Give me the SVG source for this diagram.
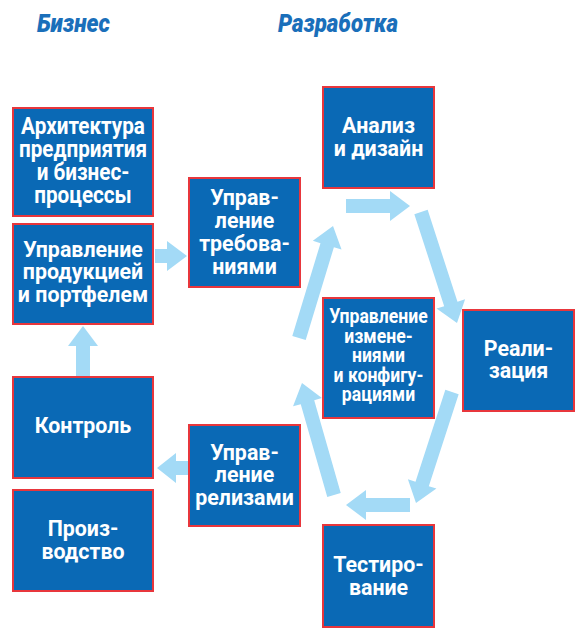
<svg xmlns="http://www.w3.org/2000/svg" width="587" height="640" viewBox="0 0 587 640">
<style>
.box{fill:#0a69b5;stroke:#e8363c;stroke-width:2}
.t{fill:#fff;font-family:Roboto,"Liberation Sans",sans-serif;font-weight:bold;font-size:23px;text-anchor:middle}
.s{font-size:20.5px}
.h{fill:#1a6fba;font-family:Roboto,"Liberation Sans",Arial,sans-serif;font-weight:900;font-style:italic;font-size:25px}
.ar{fill:#a3daf6}
</style>
<rect width="587" height="640" fill="#fff"/>
<text class="h" x="37" y="32" textLength="73" lengthAdjust="spacingAndGlyphs">Бизнес</text>
<text class="h" x="278" y="32" textLength="120" lengthAdjust="spacingAndGlyphs">Разработка</text>
<g id="connectors">
<polygon class="ar" transform="translate(155,256)" points="0,-7 12,-7 12,-15 32,0 12,15 12,7 0,7"/>
<polygon class="ar" transform="translate(83,376) rotate(-90)" points="0,-7 30,-7 30,-15 50,0 30,15 30,7 0,7"/>
<polygon class="ar" transform="translate(188,468) rotate(180)" points="0,-7 12,-7 12,-15 31,0 12,15 12,7 0,7"/>
<polygon class="ar" transform="translate(346,206) rotate(0)" points="0,-7 44,-7 44,-15 64,0 44,15 44,7 0,7"/>
<polygon class="ar" transform="translate(421,212) rotate(72.03)" points="0,-7 96.7,-7 96.7,-15 116.7,0 96.7,15 96.7,7 0,7"/>
<polygon class="ar" transform="translate(452,392) rotate(107.97)" points="0,-7 96.7,-7 96.7,-15 116.7,0 96.7,15 96.7,7 0,7"/>
<polygon class="ar" transform="translate(410,505) rotate(180)" points="0,-7 44,-7 44,-15 64,0 44,15 44,7 0,7"/>
<polygon class="ar" transform="translate(334,495) rotate(-105.95)" points="0,-7 96.5,-7 96.5,-15 116.5,0 96.5,15 96.5,7 0,7"/>
<polygon class="ar" transform="translate(299,338) rotate(-73.1)" points="0,-7 97,-7 97,-15 117,0 97,15 97,7 0,7"/>
</g>
<g id="arch">
<rect class="box" x="13" y="108" width="140" height="108"/>
<g transform="translate(83,0) scale(0.9,1)">
<text class="t" x="0" y="134">Архитектура</text>
<text class="t" x="0" y="157">предприятия</text>
<text class="t" x="0" y="180">и бизнес-</text>
<text class="t" x="0" y="203">процессы</text>
</g>
</g>
<g id="product">
<rect class="box" x="13" y="224" width="140" height="100"/>
<g transform="translate(83,0) scale(0.93,1)">
<text class="t" x="0" y="257">Управление</text>
<text class="t" x="0" y="279.5">продукцией</text>
<text class="t" x="0" y="302">и портфелем</text>
</g>
</g>
<g id="requirements">
<rect class="box" x="189" y="178" width="111" height="109"/>
<g transform="translate(244.5,0) scale(0.93,1)">
<text class="t" x="0" y="205">Управ-</text>
<text class="t" x="0" y="228">ление</text>
<text class="t" x="0" y="251">требова-</text>
<text class="t" x="0" y="274">ниями</text>
</g>
</g>
<g id="analysis">
<rect class="box" x="323" y="87" width="111" height="101"/>
<g transform="translate(378.5,0) scale(0.93,1)">
<text class="t" x="0" y="133">Анализ</text>
<text class="t" x="0" y="156">и дизайн</text>
</g>
</g>
<g id="changes">
<rect class="box" x="323" y="298" width="111" height="120"/>
<g transform="translate(378.5,0) scale(0.86,1)">
<text class="t s" x="0" y="323">Управление</text>
<text class="t s" x="0" y="343">измене-</text>
<text class="t s" x="0" y="362.5">ниями</text>
<text class="t s" x="0" y="382">и конфигу-</text>
<text class="t s" x="0" y="401.5">рациями</text>
</g>
</g>
<g id="implementation">
<rect class="box" x="463" y="310" width="111" height="101"/>
<g transform="translate(518.5,0) scale(0.93,1)">
<text class="t" x="0" y="356">Реали-</text>
<text class="t" x="0" y="378.5">зация</text>
</g>
</g>
<g id="control">
<rect class="box" x="13" y="377" width="140" height="101"/>
<g transform="translate(83,0) scale(0.93,1)">
<text class="t" x="0" y="433">Контроль</text>
</g>
</g>
<g id="releases">
<rect class="box" x="189" y="425" width="111" height="101"/>
<g transform="translate(244.5,0) scale(0.93,1)">
<text class="t" x="0" y="460">Управ-</text>
<text class="t" x="0" y="482.5">ление</text>
<text class="t" x="0" y="505">релизами</text>
</g>
</g>
<g id="production">
<rect class="box" x="13" y="490" width="140" height="101"/>
<g transform="translate(83,0) scale(0.93,1)">
<text class="t" x="0" y="536">Произ-</text>
<text class="t" x="0" y="559">водство</text>
</g>
</g>
<g id="testing">
<rect class="box" x="323" y="525" width="111" height="102"/>
<g transform="translate(378.5,0) scale(0.93,1)">
<text class="t" x="0" y="572">Тестиро-</text>
<text class="t" x="0" y="595">вание</text>
</g>
</g>
</svg>
